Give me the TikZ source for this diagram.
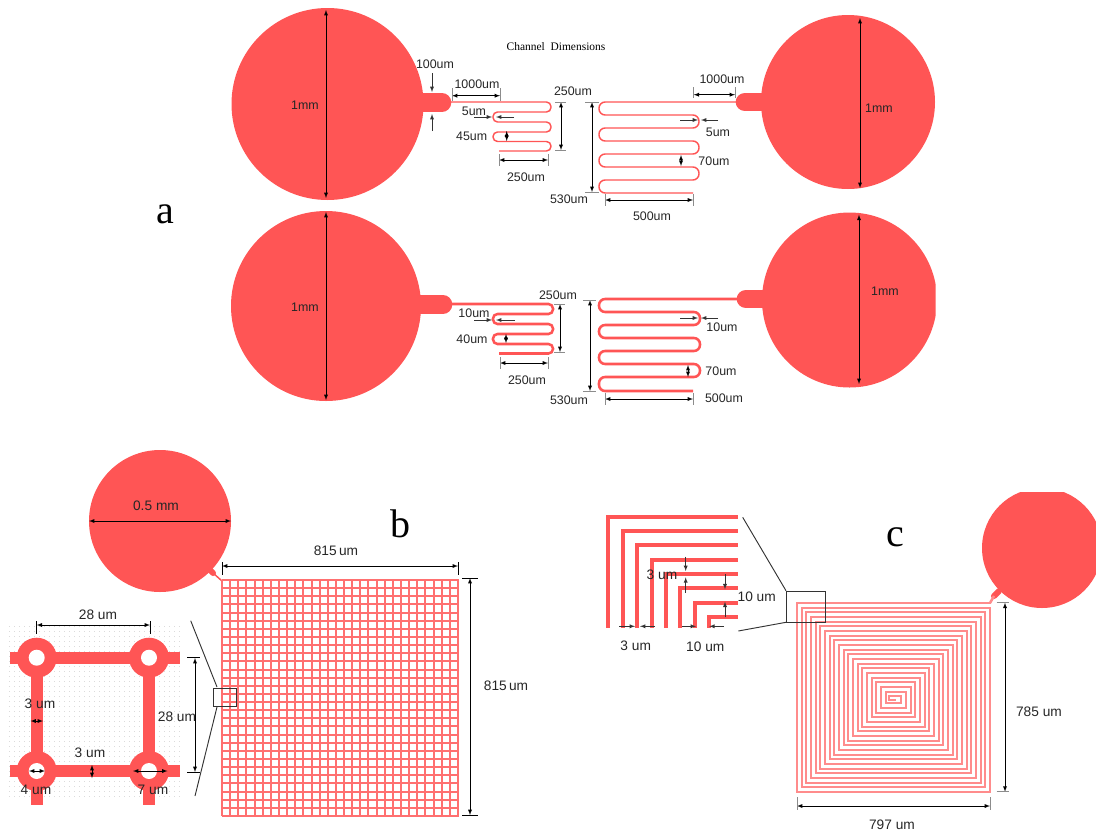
\documentclass[tikz,border=0pt]{standalone}
\usepackage{fontspec}
\setmainfont{Liberation Sans}
\newfontfamily\titlefont{Liberation Serif}
\usetikzlibrary{arrows}
\definecolor{padred}{HTML}{FF5555}
\definecolor{lightred}{HTML}{FF7070}
\definecolor{paleRed}{HTML}{FF8C8C}
\tikzset{
  padfill/.style={fill=padred,draw=none},
  nozzle/.style={draw=padred,line width=14pt,line cap=round},
  chanthin/.style={draw=padred,line width=1.1pt,rounded corners=3.4pt},
  chanthick/.style={draw=padred,line width=1.9pt,rounded corners=3.4pt},
  chanwide/.style={draw=padred,line width=1.1pt,rounded corners=4.6pt},
  chanwidethick/.style={draw=padred,line width=1.9pt,rounded corners=4.6pt},
  gridbar/.style={draw=lightred,line width=1.5pt},
  spiralbar/.style={draw=paleRed,line width=1.9pt},
  dim/.style={<->,>=latex,line width=.4pt,black},
  tip/.style={->,>=latex,line width=.4pt,black!80},
  tick/.style={draw=black!45,line width=.5pt},
  zoomline/.style={draw=black!80,line width=.7pt},
  lbl/.style={font=\fontsize{9.3}{11}\selectfont,inner sep=0pt,text=black!85},
  lblb/.style={font=\fontsize{10.3}{12}\selectfont,inner sep=0pt,text=black!85},
  panel/.style={font=\titlefont\fontsize{30}{32}\selectfont,inner sep=0pt}
}
\begin{document}
\begin{tikzpicture}[x=.75pt,y=-.75pt]
\useasboundingbox (0,0) rectangle (1096,836);
% a, upper row
\fill[padfill](327.5,104) circle (96);
\fill[padfill](848,102) circle (87);
\draw[nozzle](420,102.5) -- (442,102.5);
\draw[nozzle](770,102) -- (745,102);
\draw[chanthin](442,102) -- (551,102) -- (551,112) -- (493,112) -- (493,122) -- (551,122) -- (551,132) -- (493,132) -- (493,141.5) -- (551,141.5) -- (551,151) -- (499,151);
\draw[chanwide](740,102) -- (599,102) -- (599,115) -- (699,115) -- (699,128) -- (599,128) -- (599,141) -- (699,141) -- (699,154) -- (599,154) -- (599,167) -- (699,167) -- (699,180) -- (599,180) -- (599,193) -- (693,193);
% a, lower row
\fill[padfill](326,306) circle (95);
\begin{scope}
\clip (700,200) rectangle (935.5,400);
\fill[padfill](849.5,300) circle (87.5);
\end{scope}
\draw[nozzle](420,304.5) -- (443,304.5);
\draw[nozzle](770,299) -- (746,299);
\draw[chanthick](443,304) -- (553,304) -- (553,314) -- (493,314) -- (493,324) -- (553,324) -- (553,334) -- (493,334) -- (493,344) -- (553,344) -- (553,353.5) -- (499,353.5);
\draw[chanwidethick](740,299) -- (599,299) -- (599,312) -- (700,312) -- (700,325) -- (599,325) -- (599,338) -- (700,338) -- (700,351) -- (599,351) -- (599,364) -- (700,364) -- (700,377) -- (599,377) -- (599,391) -- (693,391);
% a, dimensions upper row
\draw[dim](326,10) -- (326,198);
\draw[dim](860,18) -- (860,188);
\draw[tip](432,73) -- (432,92);
\draw[tip](432,131) -- (432,114);
\draw[dim](452,95.7) -- (500,95.7);
\draw[tick](452,88) -- (452,101);
\draw[tick](500,88) -- (500,101);
\draw[tip](474,117) -- (492,117);
\draw[tip](514,117) -- (496,117);
\draw[dim](506.7,131) -- (506.7,141);
\draw[dim](561,102) -- (561,150);
\draw[tick](555,102) -- (566,102);
\draw[tick](555,150) -- (566,150);
\draw[dim](499,160) -- (548,160);
\draw[tick](499,154) -- (499,166);
\draw[tick](548,154) -- (548,166);
\draw[dim](592,102) -- (592,192);
\draw[tick](585,102) -- (599,102);
\draw[tick](585,192) -- (599,192);
\draw[dim](605,200) -- (693,200);
\draw[tick](605,194) -- (605,206);
\draw[tick](693,194) -- (693,206);
\draw[dim](693.7,94.7) -- (735,94.7);
\draw[tick](693.7,87) -- (693.7,98);
\draw[tick](735,87) -- (735,98);
\draw[tip](680,120) -- (698,120);
\draw[tip](718,120) -- (701,120);
\draw[dim](681,155) -- (681,166);
% a, dimensions lower row
\draw[dim](326,212) -- (326,400);
\draw[dim](859,214.7) -- (859,384);
\draw[tip](474,320) -- (492,320);
\draw[tip](515,320) -- (496,320);
\draw[dim](506,334) -- (506,343);
\draw[dim](560,304) -- (560,352);
\draw[tick](554,304) -- (565,304);
\draw[tick](554,352) -- (565,352);
\draw[dim](500,363) -- (548,363);
\draw[tick](500,357) -- (500,369);
\draw[tick](548,357) -- (548,369);
\draw[dim](590,300) -- (590,391);
\draw[tick](583,300) -- (596,300);
\draw[tick](583,391) -- (596,391);
\draw[dim](605,399) -- (693,399);
\draw[tick](605,393) -- (605,405);
\draw[tick](693,393) -- (693,405);
\draw[tip](680,318) -- (698,318);
\draw[tip](718,318) -- (701,318);
\draw[dim](688,365) -- (688,377);
% a, labels
\node[panel] (panela) at (165,214) {a};
\node[inner sep=0pt,font=\titlefont\fontsize{8.6}{10}\selectfont] (chantitle) at (556,47) {Channel\ \ Dimensions};
\node[lbl] (padaa) at (305,105) {1mm};
\node[lbl] (padab) at (879,108) {1mm};
\node[lbl] (padac) at (305,307) {1mm};
\node[lbl] (padad) at (885,291) {1mm};
\node[lbl] (neckw) at (435,64) {100um};
\node[lbl] (lenaa) at (477,84) {1000um};
\node[lbl] (lenab) at (722,79) {1000um};
\node[lbl] (widaa) at (474,111) {5um};
\node[lbl] (widab) at (718,132) {5um};
\node[lbl] (gapaa) at (471.7,136) {45um};
\node[lbl] (gapab) at (714,161) {70um};
\node[lbl] (heiaa) at (573,91) {250um};
\node[lbl] (heiab) at (569,199) {530um};
\node[lbl] (runaa) at (526,177) {250um};
\node[lbl] (runab) at (652,216) {500um};
\node[lbl] (widba) at (474,313) {10um};
\node[lbl] (widbb) at (722,327) {10um};
\node[lbl] (gapba) at (472,339) {40um};
\node[lbl] (gapbb) at (721,371) {70um};
\node[lbl] (heiba) at (558,295) {250um};
\node[lbl] (heibb) at (569,400) {530um};
\node[lbl] (runba) at (527,380) {250um};
\node[lbl] (runbb) at (724,398) {500um};
% b, pad and mesh
\fill[padfill](160,521) circle (71);
\draw[padred,line width=4.5pt,line cap=round](208,568) -- (213,573);
\draw[draw=padred,line width=1.1pt](213,573) -- (222,581);
\foreach \i in {0,...,29}
{
\pgfmathsetmacro{\gx}{round(222+8.138*\i)}
\pgfmathsetmacro{\gy}{round(580+8.138*\i)}
\draw[gridbar](\gx,580) -- (\gx,816);
\draw[gridbar](222,\gy) -- (459,\gy);
}
\draw[zoomline](213,688) rectangle (236,706);
\draw[zoomline](190.7,620.7) -- (217,687);
\draw[zoomline](217,707) -- (195,796);
\draw[dim](89,521) -- (231,521);
\draw[dim](222,566) -- (458,566);
\draw[line width=.6pt](222,562) -- (222,575);
\draw[line width=.6pt](458,562) -- (458,575);
\draw[dim](470,578) -- (470,815);
\draw[line width=.6pt](462,578) -- (478,578);
\draw[line width=.6pt](462,815) -- (478,815);
% b, cell detail
\foreach \i in {0,...,34}
{
\draw[black!14,line width=.4pt,dash pattern=on .5pt off 3.25pt](9,{626+5*\i}) -- (180,{626+5*\i});
}
\draw[padred,line width=9pt](10,657.7) -- (180,657.7);
\draw[padred,line width=9pt](10,771) -- (180,771);
\draw[padred,line width=9pt](36.7,657.7) -- (36.7,805);
\draw[padred,line width=9pt](149,657.7) -- (149,805);
\foreach \cx/\cy in {36.7/657.7,149/657.7,36.7/771,149/771}
{
\fill[padfill](\cx,\cy) circle (20);
\fill[white](\cx,\cy) circle (8);
}
\draw[dim](36.7,625) -- (150,625);
\draw[line width=.6pt](36.7,621) -- (36.7,634);
\draw[line width=.6pt](150,621) -- (150,634);
\draw[dim](195,658) -- (195,772);
\draw[line width=.6pt](187,657) -- (200,657);
\draw[line width=.6pt](187,772) -- (200,772);
\draw[dim](30.5,721) -- (43,721);
\draw[dim](92,765) -- (92,778);
\draw[dim](29,771) -- (45,771);
\draw[dim](133,771) -- (167.5,771);
\node[panel] (panelb) at (400,523.5) {b};
\node[lblb] (padb) at (156,506) {0.5 mm};
\node[lblb] (meshw) at (336,551) {815\,um};
\node[lblb] (meshh) at (506,686) {815\,um};
\node[lblb] (cellw) at (98,615) {28 um};
\node[lblb] (cellh) at (177,717) {28 um};
\node[lblb] (barv) at (40,704) {3 um};
\node[lblb] (barh) at (90,753) {3 um};
\node[lblb] (holei) at (36,790) {4 um};
\node[lblb] (holeo) at (153,790) {7 um};
% c, pad and spiral
\begin{scope}
\clip (900,492) rectangle (1096,640);
\fill[padfill](1042,548) circle (60);
\end{scope}
\draw[padred,line width=4.5pt,line cap=round](994,596) -- (999,591);
\draw[spiralbar](994,596) -- (990,603);
\foreach \i in {0,...,19}
{
\pgfmathsetmacro{\sxp}{min(990,round(990-4.67*(\i-1)))}
\pgfmathsetmacro{\sxl}{round(797+4.67*\i)}
\pgfmathsetmacro{\sxr}{round(990-4.67*\i)}
\pgfmathsetmacro{\syt}{round(603+4.67*\i)}
\pgfmathsetmacro{\syb}{round(792-4.67*\i)}
\pgfmathsetmacro{\syn}{round(603+4.67*(\i+1))}
\draw[spiralbar,line cap=rect](\sxp,\syt) -- (\sxl,\syt) -- (\sxl,\syb) -- (\sxr,\syb) -- (\sxr,\syn);
}
\draw[spiralbar](901,696) -- (889,696) -- (889,700) -- (896,700);
\draw[zoomline](786,591) rectangle (825.7,622.3);
\draw[zoomline](742.7,517.3) -- (786,590.7);
\draw[zoomline](738.3,631) -- (786,622.3);
\draw[dim](1005,602.7) -- (1005,791.7);
\draw[tick](996.7,602.7) -- (1009,602.7);
\draw[tick](996.7,791.7) -- (1009,791.7);
\draw[dim](797,806) -- (990,806);
\draw[tick](797,797) -- (797,810);
\draw[tick](990,797) -- (990,810);
% c, corner detail
\foreach \i in {0,...,7}
{
\draw[padred,line width=3pt]({608.3+14.43*\i},627.7) -- ({608.3+14.43*\i},{516.7+14.3*\i}) -- (738.3,{516.7+14.3*\i});
}
\draw[tip](619.3,626.3) -- (635,626.3);
\draw[tip](655,626.3) -- (640,626.3);
\draw[tip](681.7,626.3) -- (696,626.3);
\draw[tip](724,626.3) -- (709.3,626.3);
\draw[tip](685.7,556.7) -- (685.7,571);
\draw[tip](685.7,592.7) -- (685.7,577.3);
\draw[tip](725,574.3) -- (725,589.3);
\draw[tip](725,617.3) -- (725,601.7);
\node[panel] (panelc) at (895,537) {c};
\node[lblb] (pitchv) at (662,574.3) {3 um};
\node[lblb] (gapv) at (756.7,596.7) {10 um};
\node[lblb] (pitchh) at (635.7,645.7) {3 um};
\node[lblb] (gaph) at (705.3,646.7) {10 um};
\node[lblb] (spirh) at (1039,712) {785 um};
\node[lblb] (spirw) at (892,825) {797 um};
\end{tikzpicture}
\end{document}
